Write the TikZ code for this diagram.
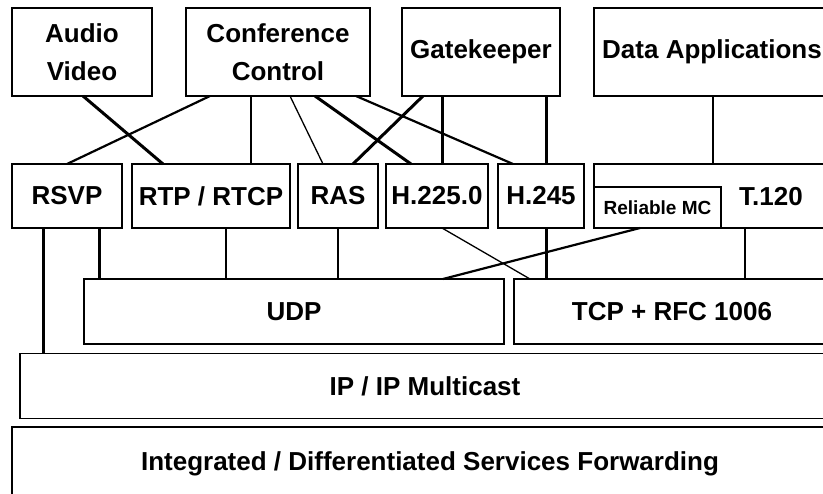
\documentclass[tikz,border=0pt]{standalone}
\usepackage{fontspec}
\setmainfont{Liberation Sans}
\begin{document}
\begin{tikzpicture}[x=1pt,y=-1pt,
  box/.style={draw=black,line width=1.6pt,rectangle,inner sep=0pt,outer sep=0pt,align=center,
    font=\fontsize{26}{38}\selectfont\bfseries},
  lbl/.style={inner sep=0pt,font=\fontsize{26}{38}\selectfont\bfseries},
  thick conn/.style={line width=3pt},
  mid conn/.style={line width=2.2pt},
  thin conn/.style={line width=1.3pt}]
\useasboundingbox (0,0) rectangle (823,494);
\clip (0,0) rectangle (823,494);
% top row
\node[box,minimum width=140,minimum height=88] (av) at (82,52) {Audio\\Video};
\node[box,minimum width=184,minimum height=88] (cc) at (278,52) {Conference\\Control};
\node[box,minimum width=158,minimum height=88] (gk) at (481,52) {Gatekeeper};
\node[box,minimum width=236,minimum height=88] (da) at (712,52) {Data Applications};
% middle row
\node[box,minimum width=110,minimum height=64] (rsvp) at (67,196) {RSVP};
\node[box,minimum width=158,minimum height=64] (rtp) at (211,196) {RTP / RTCP};
\node[box,minimum width=80,minimum height=64] (ras) at (338,196) {RAS};
\node[box,minimum width=102,minimum height=64] (h225) at (437,196) {H.225.0};
\node[box,minimum width=86,minimum height=64] (h245) at (541,196) {H.245};
\node[box,minimum width=236,minimum height=64] (t120) at (712,196) {};
\node[lbl] (t120lbl) at (771,197) {T.120};
\node[box,minimum width=127,minimum height=41,font=\fontsize{19}{22}\selectfont\bfseries] (rmc) at (657.5,207.5) {Reliable MC};
% transport
\node[box,minimum width=420,minimum height=65] (udp) at (294,311.5) {UDP};
\node[box,minimum width=316,minimum height=65] (tcp) at (672,311.5) {TCP + RFC 1006};
% network
\node[box,minimum width=810,minimum height=65] (ip) at (425,386) {IP / IP Multicast};
\node[box,minimum width=818,minimum height=73] (isf) at (421,463.5) {};
\node[lbl] (isflbl) at (430,464) {Integrated / Differentiated Services Forwarding};
% connectors top -> middle
\draw[thick conn] ([xshift=1]av.south) -- ([xshift=-48]rtp.north);
\draw[mid conn] ([xshift=-68]cc.south) -- ([xshift=0]rsvp.north);
\draw[thin conn] ([xshift=-27]cc.south) -- ([xshift=40]rtp.north);
\draw[thin conn] ([xshift=12]cc.south) -- ([xshift=-15]ras.north);
\draw[thick conn] ([xshift=37]cc.south) -- ([xshift=-26]h225.north);
\draw[mid conn] ([xshift=78]cc.south) -- ([xshift=-28]h245.north);
\draw[thick conn] ([xshift=-58]gk.south) -- ([xshift=15]ras.north);
\draw[thick conn] ([xshift=-39]gk.south) -- ([xshift=5]h225.north);
\draw[thick conn] ([xshift=65]gk.south) -- ([xshift=5]h245.north);
\draw[thin conn] ([xshift=1]da.south) -- ([xshift=1]t120.north);
% connectors middle -> lower
\draw[thick conn] ([xshift=-24]rsvp.south) -- ([xshift=-382]ip.north);
\draw[thick conn] ([xshift=32]rsvp.south) -- ([xshift=-195]udp.north);
\draw[thin conn] ([xshift=15]rtp.south) -- ([xshift=-68]udp.north);
\draw[thin conn] ([xshift=0]ras.south) -- ([xshift=44]udp.north);
\draw[thin conn] ([xshift=5]h225.south) -- ([xshift=-142]tcp.north);
\draw[thick conn] ([xshift=5]h245.south) -- ([xshift=-126]tcp.north);
\draw[mid conn] ([xshift=-17.5]rmc.south) -- ([xshift=149]udp.north);
\draw[thin conn] ([xshift=33]t120.south) -- ([xshift=73]tcp.north);
\end{tikzpicture}
\end{document}
